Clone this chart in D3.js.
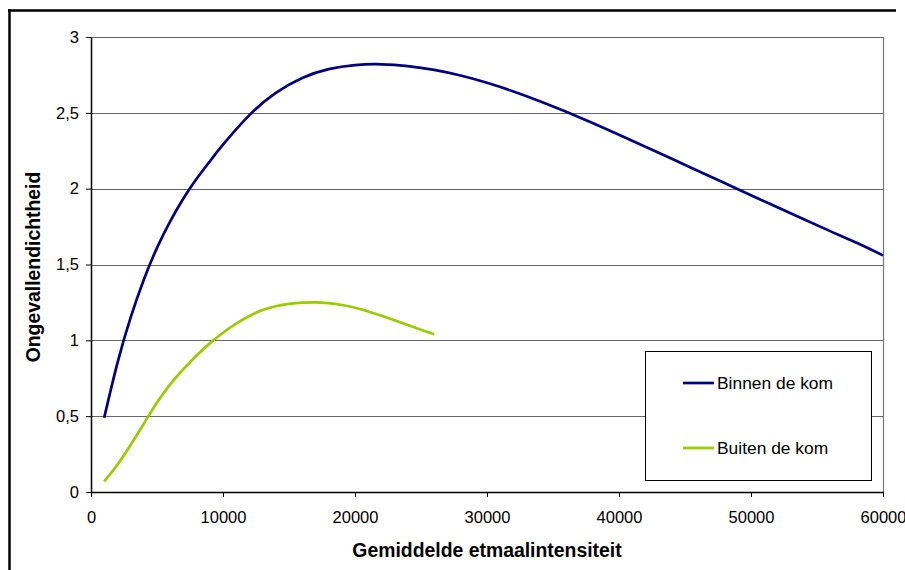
<!DOCTYPE html>
<html><head><meta charset="utf-8">
<script src="https://cdn.jsdelivr.net/npm/d3@7"></script>
<style>body{margin:0;background:#fff}svg{display:block;font-family:"Liberation Sans",Arial,sans-serif}</style>
</head><body><svg id="c" width="905" height="570"></svg>
<script>
const binnenX = [1000,2000,3000,4000,5000,6000,7000,8000,9000,10000,12000,14000,16000,18000,20000,22000,24000,26000,28000,30000,32000,34000,36000,38000,40000,42000,44000,46000,48000,50000,52000,54000,56000,58000,60000];
const binnenY = [0.49,0.85,1.15,1.40,1.61,1.785,1.935,2.065,2.18,2.29,2.485,2.632,2.73,2.788,2.815,2.82,2.808,2.783,2.746,2.698,2.641,2.577,2.507,2.433,2.356,2.277,2.197,2.117,2.037,1.957,1.877,1.798,1.72,1.643,1.56];
const buitenX = [1000,2000,3000,4000,5000,6000,7000,8000,9000,10000,11000,12000,13000,14000,15000,16000,17000,18000,19000,20000,21000,22000,23000,24000,25000,26000];
const buitenY = [0.07,0.18,0.31,0.45,0.59,0.71,0.81,0.90,0.98,1.05,1.11,1.16,1.20,1.225,1.24,1.248,1.25,1.245,1.233,1.215,1.19,1.162,1.132,1.101,1.07,1.04];
const xTicks = [0,10000,20000,30000,40000,50000,60000];
const yTicks = [0,0.5,1,1.5,2,2.5,3];
const seriesNames = ["Binnen de kom","Buiten de kom"];
const colors = ["#000080","#99CC00"];

const svg = d3.select("#c");
const L=91, R=883, T=37, B=492;
const x = d3.scaleLinear().domain([0,60000]).range([L,R]);
const y = d3.scaleLinear().domain([0,3]).range([B,T]);

// outer frame (partial)
svg.append("line").attr("x1",8).attr("x2",896).attr("y1",10.5).attr("y2",10.5).attr("stroke","#000").attr("stroke-width",2.5);
svg.append("line").attr("x1",9.5).attr("x2",9.5).attr("y1",9).attr("y2",570).attr("stroke","#000").attr("stroke-width",2.5);

// gridlines
svg.append("g").selectAll("line").data(yTicks.filter(d=>d>0)).join("line")
  .attr("x1",L).attr("x2",R).attr("y1",d=>Math.round(y(d))+0.5).attr("y2",d=>Math.round(y(d))+0.5)
  .attr("stroke","#666").attr("stroke-width",1);
// right border
svg.append("line").attr("x1",R+0.5).attr("x2",R+0.5).attr("y1",T).attr("y2",B).attr("stroke","#777").attr("stroke-width",1.2);

const fmt = d=>String(d).replace(".",",");
// y axis
const ya = svg.append("g").attr("transform",`translate(${L},0)`)
  .call(d3.axisLeft(y).tickValues(yTicks).tickFormat(fmt).tickSize(5).tickSizeOuter(0).tickPadding(7));
ya.select(".domain").attr("stroke","#000").attr("stroke-width",1.5);
ya.selectAll(".tick line").attr("stroke","#000");
ya.selectAll("text").attr("font-size",16.5).attr("fill","#000").attr("font-family","Liberation Sans, Arial, sans-serif");
// x axis
const xa = svg.append("g").attr("transform",`translate(0,${B})`)
  .call(d3.axisBottom(x).tickValues(xTicks).tickFormat(d=>String(d)).tickSize(5).tickSizeOuter(0).tickPadding(14));
xa.select(".domain").attr("stroke","#000").attr("stroke-width",1.5);
xa.selectAll(".tick line").attr("stroke","#000");
xa.selectAll("text").attr("font-size",16.5).attr("fill","#000").attr("font-family","Liberation Sans, Arial, sans-serif");

// lines
const line = d3.line().x(d=>x(d[0])).y(d=>y(d[1])).curve(d3.curveNatural);
const data = [d3.zip(binnenX,binnenY), d3.zip(buitenX,buitenY)];
data.forEach((s,i)=>{
  svg.append("path").datum(s).attr("d",line).attr("fill","none").attr("stroke",colors[i]).attr("stroke-width",2.7).attr("stroke-linecap","butt");
});

// legend
svg.append("rect").attr("x",645.5).attr("y",351.5).attr("width",226).attr("height",129).attr("fill","#fff").attr("stroke","#000").attr("stroke-width",1);
const ly=[383,448];
seriesNames.forEach((n,i)=>{
  svg.append("line").attr("x1",683).attr("x2",714).attr("y1",ly[i]).attr("y2",ly[i]).attr("stroke",colors[i]).attr("stroke-width",2.7);
  svg.append("text").attr("x",717).attr("y",ly[i]+6).attr("font-size",17.4).attr("fill","#000").text(n);
});

// titles
svg.append("text").attr("x",487).attr("y",557).attr("text-anchor","middle").attr("font-size",19.4).attr("font-weight","bold").text("Gemiddelde etmaalintensiteit");
svg.append("text").attr("transform","translate(40,267) rotate(-90)").attr("text-anchor","middle").attr("font-size",19.4).attr("font-weight","bold").text("Ongevallendichtheid");
</script></body></html>
